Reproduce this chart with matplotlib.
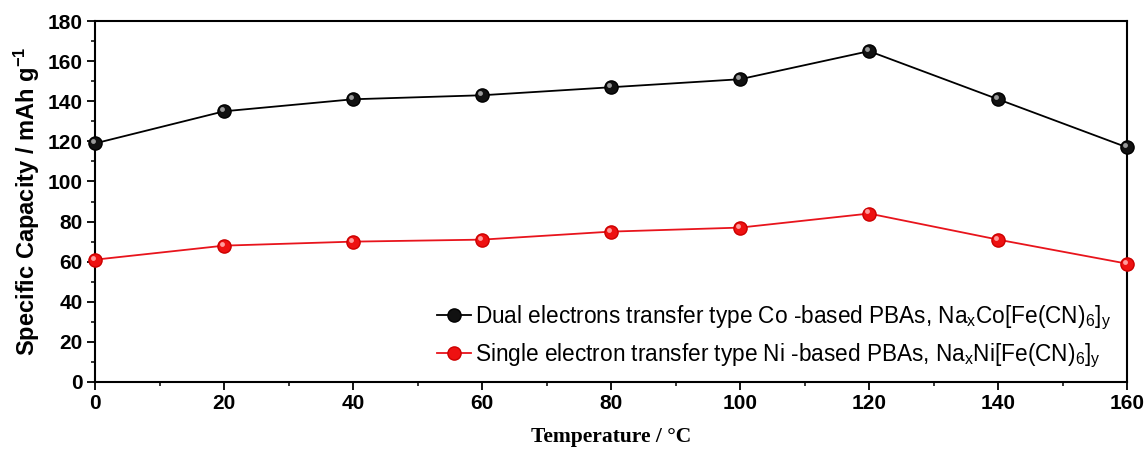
import numpy as np
import matplotlib.pyplot as plt
from matplotlib.ticker import MultipleLocator
from matplotlib.transforms import offset_copy

temperature = [0, 20, 40, 60, 80, 100, 120, 140, 160]
co_capacity = [119, 135, 141, 143, 147, 151, 165, 141, 117]
ni_capacity = [61, 68, 70, 71, 75, 77, 84, 71, 59]

co_label = r'Dual electrons transfer type Co -based PBAs, Na$_\mathregular{x}$Co[Fe(CN)$_\mathregular{6}$]$_\mathregular{y}$'
ni_label = r'Single electron transfer type Ni -based PBAs, Na$_\mathregular{x}$Ni[Fe(CN)$_\mathregular{6}$]$_\mathregular{y}$'

plt.rcParams['font.family'] = ['Liberation Sans', 'DejaVu Sans']
plt.rcParams['mathtext.default'] = 'regular'

fig = plt.figure(figsize=(11.48, 4.54), dpi=100)
ax = fig.add_axes([0.0828, 0.1586, 0.899, 0.795])

ax.plot(temperature, co_capacity, color='black', linewidth=1.3, marker='o',
        markersize=9.5, markerfacecolor='#111111', markeredgecolor='black',
        label=co_label, clip_on=False, zorder=3)
ax.plot(temperature, ni_capacity, color='#e8141c', linewidth=1.3, marker='o',
        markersize=9.5, markerfacecolor='#ee1111', markeredgecolor='#cc0000',
        label=ni_label, clip_on=False, zorder=3)

# glossy highlight on the balls, shifted a little up-left
shine = offset_copy(ax.transData, fig=fig, x=-1.5, y=1.5, units='points')
ax.plot(temperature, co_capacity, linestyle='none', marker='o', markersize=3.5,
        markerfacecolor='#9a9a9a', markeredgewidth=0, transform=shine,
        clip_on=False, zorder=4)
ax.plot(temperature, ni_capacity, linestyle='none', marker='o', markersize=3.5,
        markerfacecolor='#ff9c9c', markeredgewidth=0, transform=shine,
        clip_on=False, zorder=4)

ax.set_xlim(0, 160)
ax.set_ylim(0, 180)
ax.xaxis.set_major_locator(MultipleLocator(20))
ax.xaxis.set_minor_locator(MultipleLocator(10))
ax.yaxis.set_major_locator(MultipleLocator(20))
ax.yaxis.set_minor_locator(MultipleLocator(10))
ax.tick_params(which='major', direction='out', length=6, width=1.3, labelsize=15, pad=3)
ax.tick_params(which='minor', direction='out', length=3, width=1.1)
for lab in ax.get_xticklabels() + ax.get_yticklabels():
    lab.set_fontweight('bold')
for sp in ax.spines.values():
    sp.set_linewidth(1.5)

ax.set_ylabel(r'Specific Capacity / mAh g$^{\mathregular{-1}}$', fontsize=17,
              fontweight='bold', labelpad=4)
ax.set_xlabel('Temperature / \u00b0C', fontsize=15.5, fontweight='bold',
              family='Liberation Serif', labelpad=10)

ax.legend(loc='lower right', frameon=False, fontsize=16.3, handlelength=1.5,
          handletextpad=0.2, labelspacing=0.4, borderaxespad=0.3,
          bbox_to_anchor=(1.0, -0.01))

fig.savefig('out.png', dpi=100)
